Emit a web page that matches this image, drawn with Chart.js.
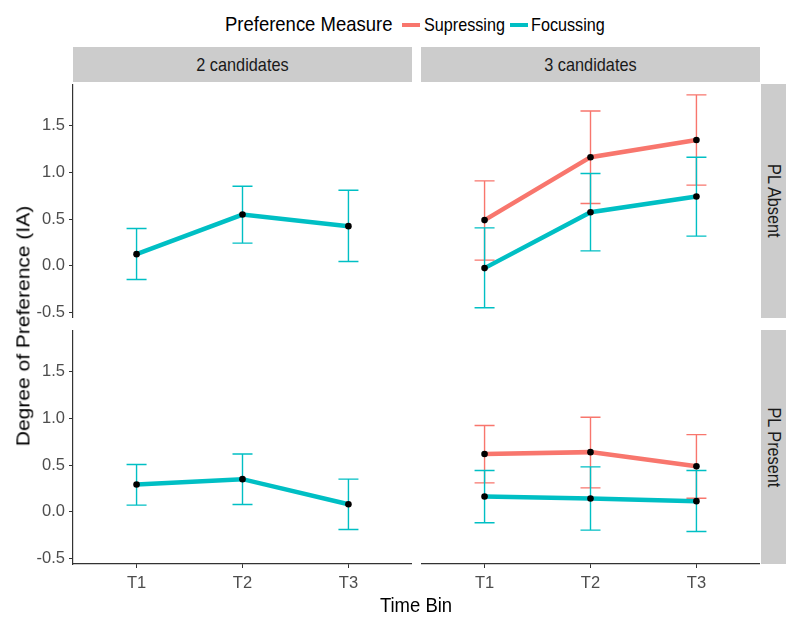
<!DOCTYPE html>
<html>
<head>
<meta charset="utf-8">
<script src="https://cdn.jsdelivr.net/npm/chart.js@4/dist/chart.umd.min.js"></script>
<style>
    body { margin: 0; background: #fff; font-family: 'Liberation Sans', Arial, sans-serif; }
    #wrap { position: relative; width: 786px; height: 617px; overflow: hidden; }
    .abs { position: absolute; white-space: nowrap; }
    .narrow { display: inline-block; transform: scaleX(0.88); }
    .leg { transform-origin: 0 50%; transform: scaleX(0.88); }
    .strip { position: absolute; background: #cccccc; color: #1a1a1a; font-size: 18.5px;
             display: flex; align-items: center; justify-content: center; }
    .strip.row { writing-mode: vertical-rl; }
    .strip.row span { display: inline-block; transform: scaleY(0.88); }
    .panel { position: absolute; }
    .key { position: absolute; height: 4px; }
</style>
</head>
<body>
<div id="wrap">
    <!-- legend -->
    <div class="abs leg" style="left:225px; top:12px; font-size:21px; color:#000;">Preference Measure</div>
    <div class="key" style="left:402px; top:23px; width:18px; background:#F8766D;"></div>
    <div class="abs leg" style="left:424px; top:14px; font-size:18.4px; color:#000;">Supressing</div>
    <div class="key" style="left:510px; top:23px; width:18px; background:#00BFC4;"></div>
    <div class="abs leg" style="left:531px; top:14px; font-size:18.4px; color:#000;">Focussing</div>

    <!-- facet strips -->
    <div class="strip" style="left:73px; top:47px; width:339px; height:35px;"><span class="narrow">2 candidates</span></div>
    <div class="strip" style="left:421px; top:47px; width:339px; height:35px;"><span class="narrow">3 candidates</span></div>
    <div class="strip row" style="left:761px; top:84px; width:25px; height:234px;"><span>PL Absent</span></div>
    <div class="strip row" style="left:761px; top:330px; width:25px; height:234px;"><span>PL Present</span></div>

    <!-- panels -->
    <div class="panel" style="left:0px; top:84px; width:412px; height:234px;"><canvas id="absent2"></canvas></div>
    <div class="panel" style="left:421px; top:84px; width:339px; height:234px;"><canvas id="absent3"></canvas></div>
    <div class="panel" style="left:0px; top:330px; width:412px; height:264px;"><canvas id="present2"></canvas></div>
    <div class="panel" style="left:421px; top:330px; width:339px; height:264px;"><canvas id="present3"></canvas></div>

    <!-- axis titles -->
    <div class="abs" style="left:23px; top:326px; transform:translate(-50%,-50%) rotate(-90deg) scaleY(0.88); font-size:21px; color:#000;">Degree of Preference (IA)</div>
    <div class="abs" style="left:416px; top:605px; transform:translate(-50%,-50%) scaleX(0.88); font-size:21px; color:#000;">Time Bin</div>
</div>

<script>
// eje x y ticks
const timeBins = ['T1', 'T2', 'T3'];
const yTickValues = [-0.5, 0, 0.5, 1, 1.5];

// 2 candidates - PL Absent (solo Focussing)
const absent2Foc   = [0.125, 0.55, 0.425];
const absent2FocLo = [-0.147, 0.243, 0.046];
const absent2FocHi = [0.40, 0.854, 0.811];

// 3 candidates - PL Absent
const absent3Sup   = [0.49, 1.165, 1.35];
const absent3SupLo = [0.061, 0.668, 0.865];
const absent3SupHi = [0.911, 1.661, 1.833];
const absent3Foc   = [-0.025, 0.575, 0.743];
const absent3FocLo = [-0.45, 0.16, 0.318];
const absent3FocHi = [0.407, 0.99, 1.165];

// 2 candidates - PL Present (solo Focussing)
const present2Foc   = [0.293, 0.35, 0.081];
const present2FocLo = [0.071, 0.078, -0.19];
const present2FocHi = [0.507, 0.62, 0.35];

// 3 candidates - PL Present
const present3Sup   = [0.62, 0.64, 0.489];
const present3SupLo = [0.31, 0.257, 0.146];
const present3SupHi = [0.925, 1.014, 0.828];
const present3Foc   = [0.164, 0.143, 0.114];
const present3FocLo = [-0.118, -0.197, -0.211];
const present3FocHi = [0.443, 0.482, 0.443];

const SUP_COLOR = '#F8766D';
const FOC_COLOR = '#00BFC4';
const FONT = "'Liberation Sans', Arial, sans-serif";

// barras de error dibujadas con las escalas del grafico
const errorBarPlugin = {
    id: 'errorBars',
    beforeDatasetsDraw(chart) {
        const ctx = chart.ctx;
        const xs = chart.scales.x;
        const ys = chart.scales.y;
        ctx.save();
        chart.data.datasets.forEach(ds => {
            ctx.strokeStyle = ds.borderColor;
            ctx.lineWidth = 1.4;
            ds.data.forEach((pt, i) => {
                const px = xs.getPixelForValue(pt.x);
                const top = ys.getPixelForValue(ds.errHi[i]);
                const bot = ys.getPixelForValue(ds.errLo[i]);
                ctx.beginPath();
                ctx.moveTo(px, top); ctx.lineTo(px, bot);
                ctx.moveTo(px - 10, top); ctx.lineTo(px + 10, top);
                ctx.moveTo(px - 10, bot); ctx.lineTo(px + 10, bot);
                ctx.stroke();
            });
        });
        ctx.restore();
    }
};

function makeSeries(color, values, lo, hi) {
    return {
        data: values.map((v, i) => ({ x: i + 1, y: v })),
        errLo: lo,
        errHi: hi,
        borderColor: color,
        borderWidth: 4.5,
        pointRadius: 3.3,
        pointBackgroundColor: '#000',
        pointBorderWidth: 0,
        tension: 0
    };
}

function makePanel(id, series, showY, showX) {
    const ctx = document.getElementById(id);
    return new Chart(ctx, {
        type: 'line',
        data: { datasets: series },
        options: {
            responsive: true,
            maintainAspectRatio: false,
            animation: false,
            layout: { padding: 0, autoPadding: false },
            plugins: {
                legend: { display: false },
                tooltip: { enabled: false }
            },
            scales: {
                x: {
                    type: 'linear',
                    min: 0.4,
                    max: 3.6,
                    display: showX,
                    afterBuildTicks: scale => {
                        scale.ticks = timeBins.map((t, i) => ({ value: i + 1 }));
                    },
                    afterFit: scale => {
                        scale.height = showX ? 30 : 0;
                        scale.paddingLeft = 0;
                        scale.paddingRight = 0;
                    },
                    ticks: {
                        color: '#4d4d4d',
                        font: { family: FONT, size: 16.5 },
                        padding: 6,
                        maxRotation: 0,
                        callback: v => timeBins[v - 1] || ''
                    },
                    grid: { drawOnChartArea: false, drawTicks: true, tickLength: 4, color: '#333' },
                    border: { display: true, color: '#333', width: 1.2 }
                },
                y: {
                    type: 'linear',
                    min: -0.56,
                    max: 1.95,
                    display: showY,
                    afterBuildTicks: scale => {
                        scale.ticks = yTickValues.map(v => ({ value: v }));
                    },
                    afterFit: scale => {
                        scale.width = showY ? 73 : 0;
                        scale.paddingTop = 0;
                        scale.paddingBottom = 0;
                    },
                    ticks: {
                        color: '#4d4d4d',
                        font: { family: FONT, size: 16.5 },
                        padding: 4,
                        callback: v => v.toFixed(1)
                    },
                    grid: { drawOnChartArea: false, drawTicks: true, tickLength: 4, color: '#333' },
                    border: { display: true, color: '#333', width: 1.2 }
                }
            }
        },
        plugins: [errorBarPlugin]
    });
}

makePanel('absent2', [
    makeSeries(FOC_COLOR, absent2Foc, absent2FocLo, absent2FocHi)
], true, false);

makePanel('absent3', [
    makeSeries(SUP_COLOR, absent3Sup, absent3SupLo, absent3SupHi),
    makeSeries(FOC_COLOR, absent3Foc, absent3FocLo, absent3FocHi)
], false, false);

makePanel('present2', [
    makeSeries(FOC_COLOR, present2Foc, present2FocLo, present2FocHi)
], true, true);

makePanel('present3', [
    makeSeries(SUP_COLOR, present3Sup, present3SupLo, present3SupHi),
    makeSeries(FOC_COLOR, present3Foc, present3FocLo, present3FocHi)
], false, true);
</script>
</body>
</html>
